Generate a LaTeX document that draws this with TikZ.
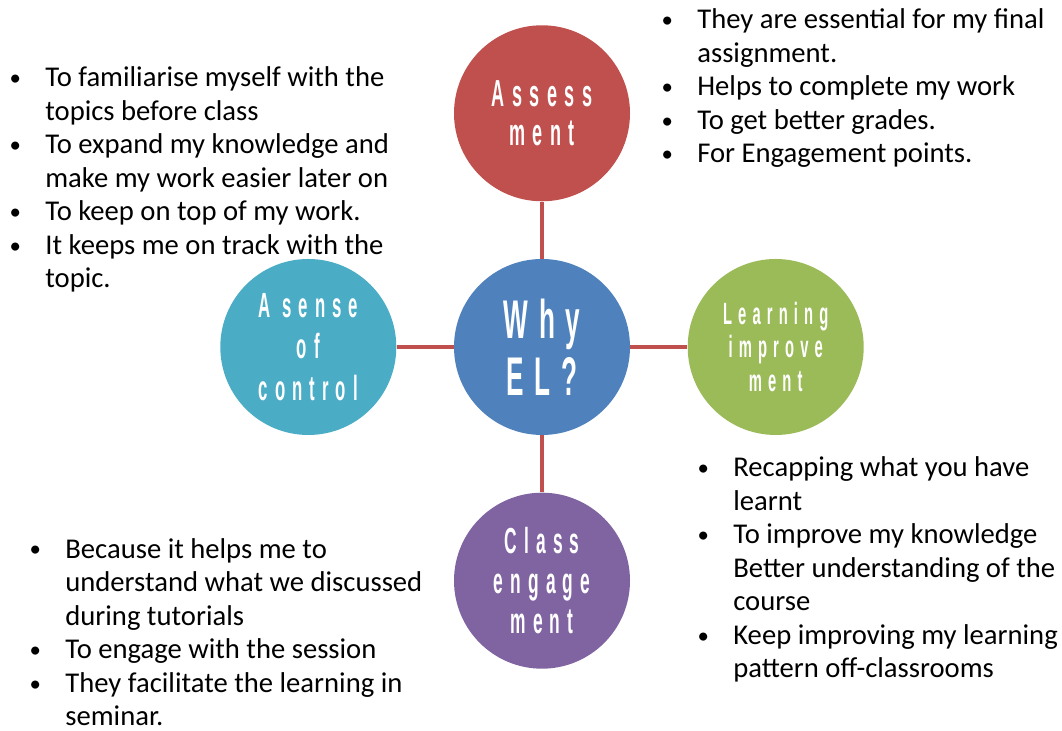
\documentclass[tikz,border=0pt]{standalone}
\usepackage{fontspec}
\setmainfont{Carlito}
\newfontfamily\bubblefont{Liberation Sans}[FakeStretch=0.48,LetterSpace=20]
\usetikzlibrary{positioning}

\definecolor{elred}{HTML}{C0504D}
\definecolor{elblue}{HTML}{4F81BD}
\definecolor{elaqua}{HTML}{4BACC6}
\definecolor{elgreen}{HTML}{9BBB59}
\definecolor{elpurple}{HTML}{8064A2}

% bullet hanging to the left of a line
\newcommand{\bul}{\llap{\makebox[0.75cm][l]{\hspace{1pt}\raisebox{0.8pt}{\fontsize{13}{13}\selectfont•}}}}
\newcommand{\bubblesize}[2]{\bubblefont\bfseries\fontsize{#1}{#2}\selectfont}

\begin{document}
\begin{tikzpicture}[
    bubble/.style={circle, minimum size=3.52cm, inner sep=0pt, text=white, align=center},
    link/.style={draw=elred, line width=2pt},
    reason/.style={anchor=base west, align=left, inner sep=0pt, font=\fontsize{16.3}{19.1}\selectfont},
    node distance=1.14cm]
  \useasboundingbox (0,0) rectangle (21.24,14.62);

  \node[bubble, fill=elblue, font=\bubblesize{31}{32.4}] (why) at (10.84,7.68) {Why\\EL?};
  \node[bubble, fill=elred, above=of why, font=\bubblesize{21.4}{22.2}] (assess) {Assess\\ment};
  \node[bubble, fill=elaqua, left=of why, font=\bubblesize{19.9}{23.6}] (sense) {A sense\\of\\control};
  \node[bubble, fill=elgreen, right=of why, font=\bubblesize{17.5}{19.3}] (learn) {Learning\\improve\\ment};
  \node[bubble, fill=elpurple, below=of why, font=\bubblesize{20.6}{22.8}] (class) {Class\\engage\\ment};

  \draw[link] (why) -- (assess);
  \draw[link] (why) -- (sense);
  \draw[link] (why) -- (learn);
  \draw[link] (why) -- (class);

  % the base of each list sits on its last line
  \node[reason] (sense-why) at (0.90,8.86) {\bul To familiarise myself with the\\
    topics before class\\
    \bul To expand my knowledge and\\
    make my work easier later on\\
    \bul To keep on top of my work.\\
    \bul It keeps me on track with the\\
    topic.};
  \node[reason] (assess-why) at (13.94,11.36) {\bul They are essential for my final\\
    assignment.\\
    \bul Helps to complete my work\\
    \bul To get better grades.\\
    \bul For Engagement points.};
  \node[reason] (learn-why) at (14.66,1.06) {\bul Recapping what you have\\
    learnt\\
    \bul To improve my knowledge\\
    Better understanding of the\\
    course\\
    \bul Keep improving my learning\\
    pattern off-classrooms};
  \node[reason] (class-why) at (1.30,0.10) {\bul Because it helps me to\\
    understand what we discussed\\
    during tutorials\\
    \bul To engage with the session\\
    \bul They facilitate the learning in\\
    seminar.};
\end{tikzpicture}
\end{document}
